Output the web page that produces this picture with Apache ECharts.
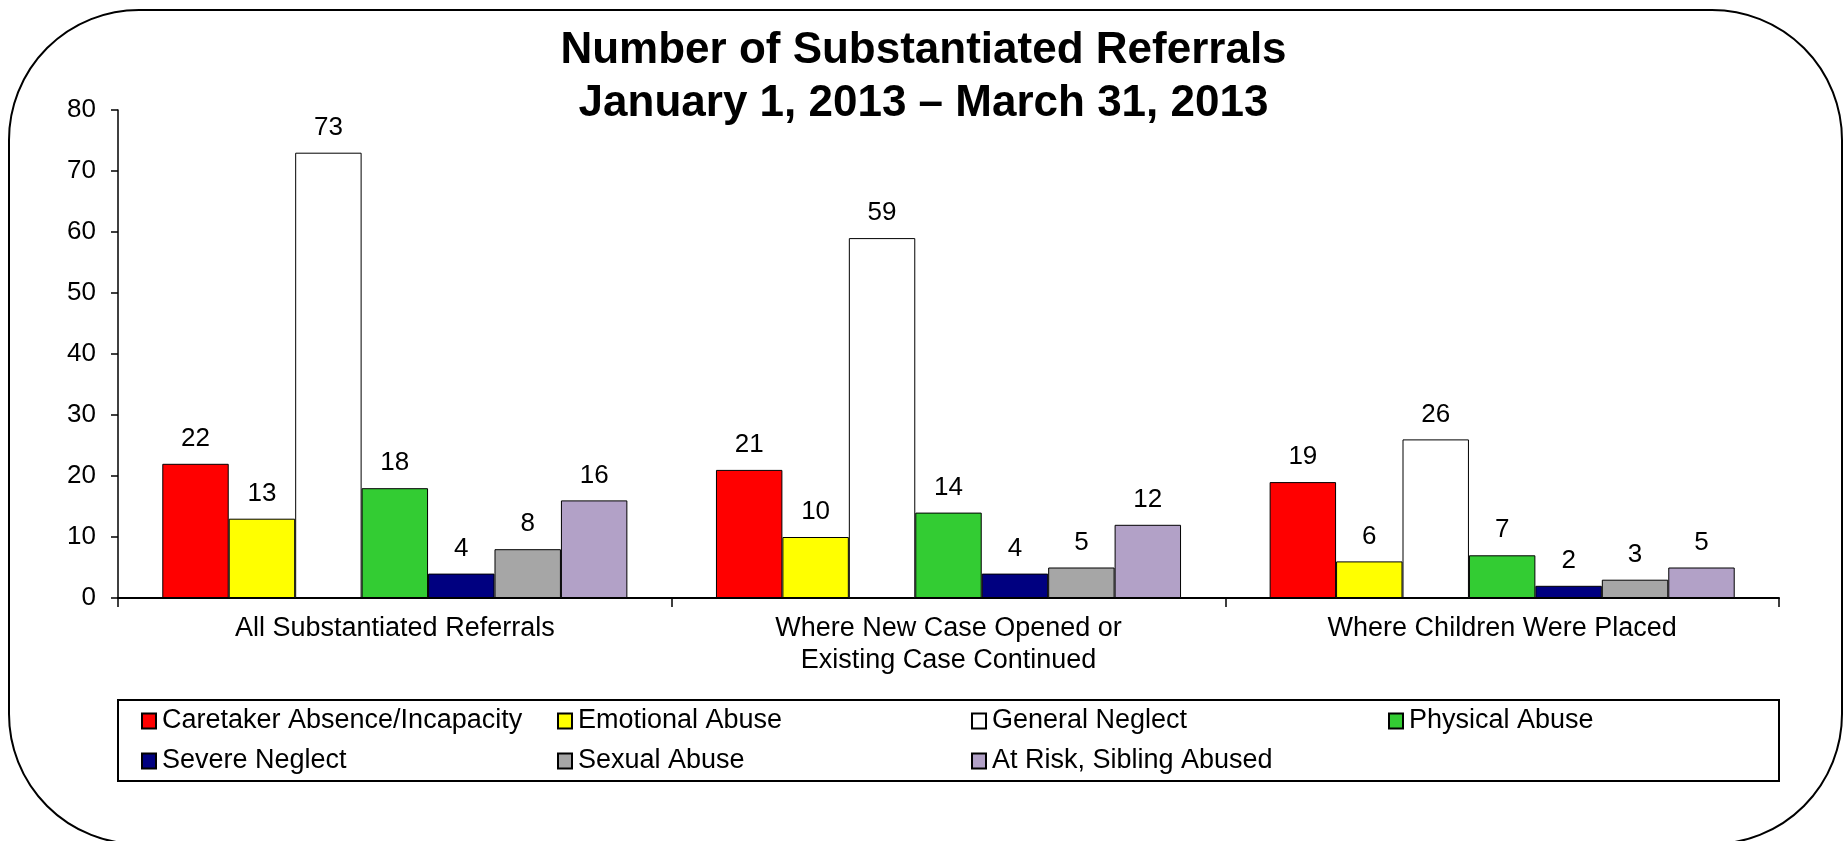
<!DOCTYPE html>
<html>
<head>
<meta charset="utf-8">
<title>Number of Substantiated Referrals</title>
<script src="https://cdn.jsdelivr.net/npm/echarts@6/dist/echarts.min.js"></script>
<style>
  html, body { margin: 0; padding: 0; background: #fff; }
  #chart { width: 1847px; height: 841px; }
</style>
</head>
<body>
<div id="chart"></div>
<script>
// categories and values
var categories = [
    'All Substantiated Referrals',
    'Where New Case Opened or\nExisting Case Continued',
    'Where Children Were Placed'
];
var caretakerAbsence = [22, 21, 19];
var emotionalAbuse = [13, 10, 6];
var generalNeglect = [73, 59, 26];
var physicalAbuse = [18, 14, 7];
var severeNeglect = [4, 4, 2];
var sexualAbuse = [8, 5, 3];
var atRiskSibling = [16, 12, 5];
var yTicks = [0, 10, 20, 30, 40, 50, 60, 70, 80];

var seriesDefs = [
    { name: 'Caretaker Absence/Incapacity', data: caretakerAbsence, color: '#FF0000' },
    { name: 'Emotional Abuse', data: emotionalAbuse, color: '#FFFF00' },
    { name: 'General Neglect', data: generalNeglect, color: '#FFFFFF' },
    { name: 'Physical Abuse', data: physicalAbuse, color: '#33CC33' },
    { name: 'Severe Neglect', data: severeNeglect, color: '#000080' },
    { name: 'Sexual Abuse', data: sexualAbuse, color: '#A6A6A6' },
    { name: 'At Risk, Sibling Abused', data: atRiskSibling, color: '#B2A1C7' }
];

var font = 'Liberation Sans, Arial, sans-serif';
var chart = echarts.init(document.getElementById('chart'));

var series = seriesDefs.map(function (s) {
    return {
        name: s.name,
        type: 'bar',
        data: s.data,
        barGap: '0%',
        barCategoryGap: '16%',
        itemStyle: { color: s.color, borderColor: '#000', borderWidth: 1 },
        label: {
            show: true,
            position: 'top',
            distance: 12,
            color: '#000',
            fontFamily: font,
            fontSize: 26
        }
    };
});

// legend laid out as 4 columns x 2 rows, like the original
var legendColumns = [
    [seriesDefs[0].name, seriesDefs[4].name],
    [seriesDefs[1].name, seriesDefs[5].name],
    [seriesDefs[2].name, seriesDefs[6].name],
    [seriesDefs[3].name]
];
var legendLeft = [141, 557, 971, 1388];
var legends = legendColumns.map(function (names, i) {
    return {
        data: names,
        orient: 'vertical',
        left: legendLeft[i],
        top: 706,
        padding: 0,
        itemGap: 10,
        itemWidth: 14,
        itemHeight: 15,
        icon: 'rect',
        selectedMode: false,
        textStyle: {
            color: '#000',
            fontFamily: font,
            fontSize: 27,
            lineHeight: 30,
            padding: [0, 0, 0, 1]
        }
    };
});

var option = {
    backgroundColor: '#fff',
    animation: false,
    title: {
        text: 'Number of Substantiated Referrals\nJanuary 1, 2013 \u2013 March 31, 2013',
        left: 'center',
        top: 19,
        textStyle: {
            fontFamily: font,
            fontWeight: 'bold',
            fontSize: 44,
            lineHeight: 53,
            color: '#000'
        }
    },
    legend: legends,
    graphic: [
        {
            type: 'rect',
            shape: { x: 9, y: 10, width: 1833, height: 834, r: 130 },
            style: { fill: 'none', stroke: '#000', lineWidth: 2 },
            silent: true
        },
        {
            type: 'rect',
            shape: { x: 118, y: 700, width: 1661, height: 81 },
            style: { fill: 'none', stroke: '#000', lineWidth: 2 },
            silent: true,
            z: -1
        }
    ],
    grid: { left: 118, right: 68, top: 110, bottom: 243, containLabel: false },
    xAxis: {
        type: 'category',
        data: categories,
        axisLine: { lineStyle: { color: '#000', width: 2 } },
        axisTick: { show: true, length: 9, lineStyle: { color: '#000', width: 1.5 } },
        axisLabel: {
            color: '#000',
            fontFamily: font,
            fontSize: 27,
            lineHeight: 32,
            margin: 15
        }
    },
    yAxis: {
        type: 'value',
        min: yTicks[0],
        max: yTicks[yTicks.length - 1],
        interval: 10,
        splitLine: { show: false },
        axisLine: { show: true, lineStyle: { color: '#000', width: 1.5 } },
        axisTick: { show: true, length: 7, lineStyle: { color: '#000', width: 1.5 } },
        axisLabel: {
            color: '#000',
            fontFamily: font,
            fontSize: 26,
            margin: 22
        }
    },
    series: series
};

chart.setOption(option);
window.addEventListener('resize', function () {
    chart.resize();
});
</script>
</body>
</html>
